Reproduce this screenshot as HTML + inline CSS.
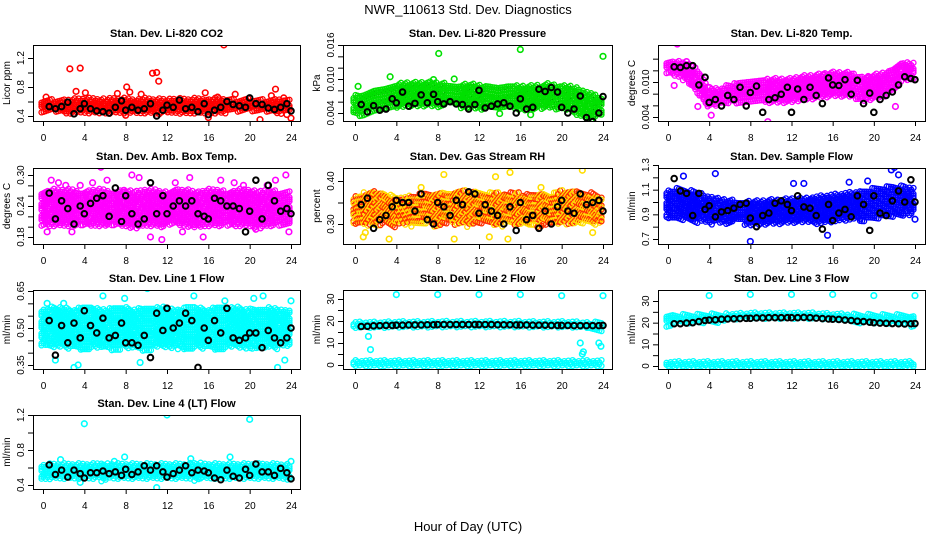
<!DOCTYPE html>
<html><head><meta charset="utf-8"><style>
body{margin:0;background:#fff}
svg{display:block;font-family:"Liberation Sans",sans-serif}
</style></head><body>
<svg id="chart" width="936" height="540" viewBox="0 0 936 540">
<rect width="936" height="540" fill="#fff"/>
<text x="468" y="14" text-anchor="middle" font-size="13">NWR_110613  Std. Dev. Diagnostics</text>
<text x="468" y="531" text-anchor="middle" font-size="13">Hour of Day (UTC)</text>
</svg>
<script>
const blackHours=[0.6,1.2,1.8,2.4,3,3.6,4,4.6,5.2,5.8,6.4,7,7.6,8,8.6,9.2,9.8,10.4,11,11.6,12,12.6,13.2,13.8,14.4,15,15.6,16,16.6,17.2,17.8,18.4,19,19.6,20,20.6,21.2,21.8,22.4,23,23.6,24];
const cloudHours=[0,1,2,3,4,5,6,7,8,9,10,11,12,13,14,15,16,17,18,19,20,21,22,23,24];
const xTicks=[0,4,8,12,16,20,24];

const co2Black=[0.53,0.50,0.53,0.59,0.43,0.50,0.57,0.50,0.47,0.46,0.44,0.52,0.61,0.48,0.52,0.48,0.50,0.57,0.40,0.48,0.55,0.52,0.62,0.50,0.52,0.46,0.57,0.42,0.48,0.52,0.60,0.56,0.54,0.52,0.65,0.57,0.56,0.51,0.49,0.52,0.57,0.47];
const co2Lo=[0.45,0.44,0.44,0.44,0.44,0.45,0.45,0.45,0.44,0.45,0.45,0.44,0.45,0.45,0.44,0.44,0.45,0.44,0.45,0.45,0.45,0.44,0.45,0.44,0.45];
const co2Hi=[0.60,0.61,0.61,0.62,0.63,0.63,0.62,0.63,0.63,0.62,0.63,0.62,0.62,0.63,0.62,0.63,0.62,0.63,0.62,0.61,0.62,0.61,0.61,0.62,0.60];
const co2OutH=[2.6,3.6,10.6,11.0,11.2,17.5,8.1,8.4,3.2,4.1,15.7,18.6,22.5,21.0,24.0,8.0,16.0,0.3,7.2,9.5,22.1,23.3,23.6,16.9];
const co2OutV=[1.05,1.06,0.99,1.00,0.88,1.38,0.80,0.73,0.74,0.72,0.72,0.70,0.77,0.35,0.37,0.41,0.38,0.66,0.71,0.70,0.68,0.65,0.42,0.66];
const presBlack=[0.0055,0.0042,0.0053,0.0045,0.0047,0.0065,0.0058,0.0077,0.0052,0.0057,0.0072,0.0058,0.0073,0.0060,0.0056,0.0060,0.0056,0.0055,0.0047,0.0055,0.0080,0.0049,0.0052,0.0056,0.0058,0.0052,0.0040,0.0065,0.0047,0.0050,0.0082,0.0078,0.0085,0.0077,0.0050,0.0040,0.0047,0.0070,0.0032,0.0025,0.0040,0.0069];
const presLo=[0.0037,0.0037,0.0042,0.0045,0.0050,0.0052,0.0052,0.0052,0.0052,0.0052,0.0052,0.0047,0.0045,0.0050,0.0050,0.0050,0.0045,0.0045,0.0050,0.0050,0.0048,0.0045,0.0032,0.0028,0.0035];
const presHi=[0.0068,0.0072,0.0080,0.0083,0.0088,0.0092,0.0092,0.0093,0.0092,0.0090,0.0088,0.0090,0.0088,0.0086,0.0083,0.0086,0.0086,0.0086,0.0088,0.0090,0.0086,0.0086,0.0080,0.0072,0.0068];
const presOutH=[8.1,16.0,24.0,0.3,3.4,17.0,14.0,7.6,9.6];
const presOutV=[0.0145,0.0152,0.0140,0.0087,0.0104,0.0037,0.0039,0.0099,0.0100];
const tempBlack=[0.0126,0.0125,0.0128,0.0128,0.0095,0.0108,0.0065,0.0070,0.0059,0.0077,0.0070,0.0091,0.0059,0.0082,0.0093,0.0048,0.0070,0.0073,0.0079,0.0091,0.0048,0.0088,0.0070,0.0091,0.0077,0.0063,0.0107,0.0095,0.0094,0.0104,0.0079,0.0103,0.0063,0.0081,0.0048,0.0070,0.0077,0.0083,0.0095,0.0109,0.0106,0.0104];
const tempLo=[0.0115,0.0110,0.0100,0.0080,0.0058,0.0060,0.0065,0.0065,0.0065,0.0066,0.0066,0.0066,0.0066,0.0070,0.0070,0.0072,0.0075,0.0076,0.0075,0.0066,0.0068,0.0074,0.0085,0.0102,0.0104];
const tempHi=[0.0134,0.0134,0.0130,0.0120,0.0090,0.0086,0.0093,0.0098,0.0100,0.0102,0.0104,0.0104,0.0104,0.0108,0.0110,0.0112,0.0115,0.0115,0.0114,0.0106,0.0110,0.0114,0.0120,0.0133,0.0130];
const tempOutH=[0.9,0.6,4.2,9.7,22.1,15.1,1.8,2.9,17.3,19.5];
const tempOutV=[0.0165,0.0094,0.0043,0.0032,0.0058,0.0113,0.0135,0.0058,0.0112,0.0108];
const ambBlack=[0.265,0.215,0.25,0.235,0.205,0.24,0.225,0.245,0.255,0.26,0.22,0.275,0.21,0.26,0.225,0.205,0.215,0.285,0.225,0.26,0.225,0.24,0.25,0.24,0.25,0.225,0.22,0.215,0.255,0.25,0.24,0.24,0.235,0.19,0.23,0.29,0.215,0.28,0.25,0.23,0.235,0.225];
const ambLo=[0.205,0.20,0.20,0.20,0.205,0.20,0.20,0.205,0.20,0.20,0.20,0.20,0.20,0.205,0.20,0.20,0.20,0.20,0.205,0.20,0.20,0.20,0.20,0.205,0.20];
const ambHi=[0.265,0.27,0.27,0.27,0.265,0.27,0.27,0.265,0.27,0.265,0.27,0.27,0.265,0.27,0.27,0.265,0.27,0.27,0.265,0.27,0.27,0.265,0.27,0.265,0.265];
const ambOutH=[0.4,0.8,1.5,2.2,3.6,5.6,6.2,7.8,8.6,9.3,10.4,11.5,12.8,14.2,15.5,17.2,18.5,19.4,20.6,21.7,22.5,23.5,23.8,2.8,4.8,13.5];
const ambOutV=[0.19,0.29,0.285,0.28,0.28,0.315,0.29,0.27,0.30,0.295,0.18,0.175,0.285,0.295,0.18,0.29,0.285,0.28,0.195,0.28,0.29,0.30,0.19,0.19,0.285,0.19];
const rhBlack=[0.345,0.36,0.29,0.31,0.32,0.34,0.355,0.35,0.35,0.33,0.37,0.31,0.30,0.35,0.34,0.32,0.355,0.345,0.375,0.37,0.325,0.345,0.33,0.32,0.30,0.34,0.285,0.35,0.31,0.32,0.29,0.33,0.30,0.34,0.355,0.33,0.325,0.37,0.345,0.35,0.355,0.33];
const rhLo=[0.30,0.295,0.295,0.30,0.295,0.30,0.295,0.30,0.295,0.30,0.30,0.295,0.30,0.30,0.295,0.30,0.295,0.30,0.295,0.30,0.30,0.30,0.30,0.30,0.30];
const rhHi=[0.36,0.37,0.375,0.37,0.36,0.36,0.365,0.37,0.37,0.37,0.375,0.375,0.37,0.37,0.37,0.37,0.37,0.365,0.37,0.365,0.375,0.375,0.37,0.37,0.36];
const rhOutH=[3.3,8.6,9.6,13.6,15.0,22.0,0.8,6.4,1.0,13.0,18.0,23.0,14.8];
const rhOutV=[0.265,0.415,0.265,0.41,0.42,0.425,0.27,0.385,0.28,0.27,0.385,0.28,0.265];
const sfBlack=[1.19,1.09,1.07,0.89,1.07,0.94,0.97,0.88,0.92,0.93,0.95,0.98,0.99,0.87,0.80,0.89,0.91,0.99,1.01,0.98,0.93,1.05,0.96,0.95,0.89,0.78,0.98,0.85,0.91,0.94,0.88,1.05,0.98,0.77,1.05,0.91,0.89,1.01,1.09,1.00,1.18,1.00];
const sfLo=[0.86,0.85,0.84,0.84,0.83,0.83,0.83,0.83,0.82,0.82,0.83,0.83,0.83,0.83,0.83,0.83,0.84,0.84,0.85,0.85,0.86,0.87,0.88,0.89,0.90];
const sfHi=[1.08,1.10,1.09,1.07,1.04,1.02,1.01,1.00,1.00,1.00,1.01,1.01,1.02,1.02,1.03,1.04,1.05,1.06,1.07,1.08,1.10,1.11,1.12,1.12,1.10];
const sfOutH=[1.5,4.6,8.0,12.2,13.2,17.6,19.4,21.7,22.0,22.4,24.0,15.5,0.2];
const sfOutV=[1.21,1.23,0.68,1.15,1.15,1.16,1.17,1.26,1.28,1.22,0.86,0.73,1.01];
const l1Black=[0.53,0.39,0.51,0.44,0.52,0.46,0.57,0.51,0.48,0.54,0.46,0.47,0.52,0.44,0.44,0.43,0.47,0.38,0.56,0.49,0.58,0.50,0.52,0.56,0.53,0.34,0.50,0.45,0.53,0.48,0.58,0.46,0.45,0.46,0.48,0.48,0.42,0.49,0.46,0.44,0.46,0.50];
const l1Lo=[0.43,0.42,0.42,0.42,0.41,0.42,0.42,0.41,0.42,0.42,0.41,0.42,0.42,0.42,0.41,0.42,0.42,0.41,0.42,0.42,0.42,0.41,0.42,0.42,0.43];
const l1Hi=[0.57,0.58,0.58,0.57,0.58,0.58,0.57,0.58,0.58,0.57,0.58,0.58,0.58,0.57,0.58,0.58,0.57,0.58,0.58,0.58,0.57,0.58,0.58,0.57,0.57];
const l1OutH=[3.0,3.4,5.8,7.9,10.1,14.6,20.4,21.3,22.7,24.0,9.4,1.2,0.4,2.0,23.4,17.6];
const l1OutV=[0.34,0.35,0.63,0.62,0.66,0.63,0.62,0.63,0.34,0.61,0.36,0.37,0.60,0.60,0.37,0.61];
const l2Black=[17.5,17.6,17.8,17.9,18,18,18.1,18.1,18.2,18.2,18.2,18.3,18.3,18.4,18.4,18.4,18.4,18.4,18.4,18.4,18.4,18.4,18.4,18.3,18.3,18.3,18.2,18.2,18.2,18.1,18.1,18.1,18.0,18.0,18.0,18.0,17.9,17.9,17.9,17.9,17.9,18.0];
const l2Lo=[16.5,16.8,17,17,17,17,17,17,17,17,17,17,17,17,17,17,17,17,17,17,17,17,16.5,16,16];
const l2Hi=[19,19,19,19,19.2,19.2,19.2,19.2,19.3,19.3,19.3,19.3,19.3,19.3,19.3,19.3,19.3,19.2,19.2,19.2,19.2,19.2,19,19,19];
const l2Lo2=[0,0,0,0,0,0,0,0,0,0,0,0,0,0,0,0,0,0,0,0,0,0,0,0,0];
const l2Hi2=[1.5,1.5,1.5,1.5,1.5,1.5,1.5,1.5,1.5,1.5,1.5,1.5,1.5,1.5,1.5,1.5,1.5,1.5,1.5,1.5,1.5,1.5,1.5,1.5,1.5];
const l2OutH=[4,8,12,16,20,24,1.3,1.5,21.8,22,22.1,23.6,23.8];
const l2OutV=[32,32,32,32,31.5,31.5,13,7,10,5,6,10,8.5];
const l3Black=[19.5,19.5,19.8,20.0,20.5,21.0,21.2,21.3,21.6,21.7,21.8,21.9,22.0,22.0,22.2,22.2,22.3,22.3,22.3,22.3,22.3,22.3,22.4,22.3,22.1,21.9,21.7,21.6,21.5,21.2,21.0,20.7,20.5,20.2,20.0,19.8,19.7,19.6,19.5,19.4,19.5,19.6];
const l3Lo=[18.8,19,19.2,19.5,20,20.5,20.8,21,21.2,21.3,21.4,21.5,21.5,21.5,21.4,21.2,21,20.8,20.5,20.2,19.8,19.5,19.2,19,18.8];
const l3Hi=[23.2,23.2,23.3,23.3,23.5,23.5,23.6,23.7,24,24,24,24,24,24,24,23.8,23.6,23.5,23.4,23.3,23.3,23.2,23.2,23.2,23.2];
const l3Lo2=[0,0,0,0,0,0,0,0,0,0,0,0,0,0,0,0,0,0,0,0,0,0,0,0,0];
const l3Hi2=[1.5,1.5,1.5,1.5,1.5,1.5,1.5,1.5,1.5,1.5,1.5,1.5,1.5,1.5,1.5,1.5,1.5,1.5,1.5,1.5,1.5,1.5,1.5,1.5,1.5];
const l3OutH=[4,8,12,16,20,24];
const l3OutV=[32.5,33,33,33,32.5,32.5];
const l4Black=[0.63,0.52,0.57,0.49,0.57,0.53,0.48,0.54,0.54,0.56,0.53,0.55,0.51,0.58,0.52,0.55,0.62,0.57,0.62,0.55,0.49,0.53,0.57,0.62,0.54,0.57,0.56,0.54,0.48,0.46,0.57,0.50,0.48,0.58,0.51,0.64,0.55,0.55,0.51,0.59,0.54,0.47];
const l4Lo=[0.47,0.46,0.46,0.46,0.46,0.46,0.46,0.46,0.46,0.46,0.46,0.46,0.46,0.46,0.46,0.46,0.46,0.46,0.46,0.46,0.46,0.46,0.46,0.46,0.47];
const l4Hi=[0.62,0.63,0.63,0.63,0.63,0.63,0.64,0.63,0.63,0.63,0.63,0.63,0.63,0.63,0.63,0.64,0.63,0.63,0.63,0.63,0.63,0.63,0.63,0.63,0.62];
const l4OutH=[4,12,20,1.7,18.1,7.9,11,24,6.9,14.3,3.6];
const l4OutV=[1.1,1.2,1.15,0.69,0.72,0.72,0.37,0.67,0.67,0.70,0.43];

const NS='http://www.w3.org/2000/svg';
const svg=document.getElementById('chart');
function mk(tag,attrs,parent){const e=document.createElementNS(NS,tag);for(const k in attrs)e.setAttribute(k,attrs[k]);(parent||svg).appendChild(e);return e;}

const cols=[{l:33,r:300,x0:43,x24:291},{l:343,r:612,x0:355,x24:603},{l:658,r:925,x0:668,x24:915}];
const rows=[{t:45,b:121},{t:168,b:244},{t:290,b:369},{t:415,b:489}];

const panels=[
 {name:'co2',title:'Stan. Dev. Li-820 CO2',ylab:'Licor ppm',c:0,r:0,v0:0.4,p0:116,v1:1.2,p1:58,ticks:[0.4,0.6,0.8,1.0,1.2],labels:[0.4,0.8,1.2],dec:1,col:'#ff0000',black:co2Black,bands:[[co2Lo,co2Hi]],oh:co2OutH,ov:co2OutV},
 {name:'pressure',title:'Stan. Dev. Li-820 Pressure',ylab:'kPa',c:1,r:0,v0:0.004,p0:113,v1:0.016,p1:45,ticks:[0.004,0.006,0.008,0.010,0.012,0.014,0.016],labels:[0.004,0.010,0.016],dec:3,col:'#00e000',dot:'#004000',black:presBlack,bands:[[presLo,presHi]],oh:presOutH,ov:presOutV},
 {name:'li820-temp',title:'Stan. Dev. Li-820 Temp.',ylab:'degrees C',c:2,r:0,v0:0.004,p0:117,v1:0.010,p1:82,ticks:[0.004,0.006,0.008,0.010,0.012,0.014],labels:[0.004,0.010],dec:3,col:'#ff00ff',black:tempBlack,bands:[[tempLo,tempHi]],oh:tempOutH,ov:tempOutV},
 {name:'amb-box-temp',title:'Stan. Dev. Amb. Box Temp.',ylab:'degrees C',c:0,r:1,v0:0.18,p0:237,v1:0.30,p1:175,ticks:[0.18,0.20,0.22,0.24,0.26,0.28,0.30],labels:[0.18,0.24,0.30],dec:2,col:'#ff00ff',black:ambBlack,bands:[[ambLo,ambHi]],oh:ambOutH,ov:ambOutV},
 {name:'gas-stream-rh',title:'Stan. Dev. Gas Stream RH',ylab:'percent',c:1,r:1,v0:0.30,p0:224,v1:0.40,p1:181,ticks:[0.30,0.35,0.40],labels:[0.30,0.40],dec:2,col:'#ffdd00',alt:'#ff3000',black:rhBlack,bands:[[rhLo,rhHi]],oh:rhOutH,ov:rhOutV},
 {name:'sample-flow',title:'Stan. Dev. Sample Flow',ylab:'ml/min',c:2,r:1,v0:0.7,p0:239,v1:1.3,p1:165,ticks:[0.7,0.8,0.9,1.0,1.1,1.2,1.3],labels:[0.7,0.9,1.1,1.3],dec:1,col:'#0000ff',black:sfBlack,bands:[[sfLo,sfHi]],oh:sfOutH,ov:sfOutV},
 {name:'line1-flow',title:'Stan. Dev. Line 1 Flow',ylab:'ml/min',c:0,r:2,v0:0.35,p0:365,v1:0.65,p1:291,ticks:[0.35,0.40,0.45,0.50,0.55,0.60,0.65],labels:[0.35,0.50,0.65],dec:2,col:'#00ffff',black:l1Black,bands:[[l1Lo,l1Hi]],oh:l1OutH,ov:l1OutV},
 {name:'line2-flow',title:'Stan. Dev. Line 2 Flow',ylab:'ml/min',c:1,r:2,v0:0,p0:365,v1:30,p1:299,ticks:[0,5,10,15,20,25,30],labels:[0,10,20,30],dec:0,col:'#00ffff',black:l2Black,bands:[[l2Lo,l2Hi],[l2Lo2,l2Hi2]],oh:l2OutH,ov:l2OutV},
 {name:'line3-flow',title:'Stan. Dev. Line 3 Flow',ylab:'ml/min',c:2,r:2,v0:0,p0:366,v1:30,p1:301,ticks:[0,5,10,15,20,25,30],labels:[0,10,20,30],dec:0,col:'#00ffff',black:l3Black,bands:[[l3Lo,l3Hi],[l3Lo2,l3Hi2]],oh:l3OutH,ov:l3OutV},
 {name:'line4-lt-flow',title:'Stan. Dev. Line 4 (LT) Flow',ylab:'ml/min',c:0,r:3,v0:0.4,p0:485,v1:1.2,p1:415,ticks:[0.4,0.6,0.8,1.0,1.2],labels:[0.4,0.8,1.2],dec:1,col:'#00ffff',black:l4Black,bands:[[l4Lo,l4Hi]],oh:l4OutH,ov:l4OutV}
];

panels.forEach(p=>{
 const C=cols[p.c],R=rows[p.r];
 const xs=h=>C.x0+(C.x24-C.x0)*h/24;
 const ys=v=>p.p0+(p.p1-p.p0)*(v-p.v0)/(p.v1-p.v0);
 const g=mk('g',{});
 
 
 const clipId='clip-'+p.name;
 const cp=mk('clipPath',{id:clipId},g);
 mk('rect',{x:C.l,y:R.t,width:C.r-C.l,height:R.b-R.t},cp);
 const plot=mk('g',{'clip-path':'url(#'+clipId+')'},g);
 const cloud=mk('g',{fill:'none','stroke-width':1.3},plot);
 
 
 let k=0;
 p.bands.forEach(([lo,hi])=>{
  for(let h=0;h<=24.001;h+=0.2){
   const i=Math.min(23,Math.floor(h)),f=h-i;
   const l=lo[i]+(lo[i+1]-lo[i])*f, u=hi[i]+(hi[i+1]-hi[i])*f;
   const yl=ys(l),yu=ys(u);
   for(let y=yu;y<=yl+0.01;y+=3.1){
    k++;
    const cx=xs(h)+((k*7)%7-3)*0.5, cy=y+((k*5)%7-3)*0.55;
    mk('circle',{cx:cx.toFixed(1),cy:cy.toFixed(1),r:2.5,stroke:(p.alt&&k%2===0)?p.alt:p.col},cloud);
    if(p.dot&&k%2===0) mk('rect',{x:cx.toFixed(1),y:cy.toFixed(1),width:1,height:1,fill:p.dot},cloud);
   }
  }
 });
 const og=mk('g',{fill:'none','stroke-width':1.6,stroke:p.col},plot);
 
 
 p.oh.forEach((h,i)=>{mk('circle',{cx:xs(h),cy:ys(p.ov[i]),r:2.8},og);});
 const bg=mk('g',{fill:'none','stroke-width':2,stroke:'#000'},plot);
 
 
 blackHours.forEach((h,i)=>{mk('circle',{cx:xs(h),cy:ys(p.black[i]),r:2.8},bg);});
 const box=mk('rect',{x:C.l+0.5,y:R.t+0.5,width:C.r-C.l,height:R.b-R.t,fill:'none',stroke:'#000','stroke-width':1},g);
 
 
 const xa=mk('g',{stroke:'#000','stroke-width':1},g);
 
 
 mk('line',{x1:xs(0),x2:xs(24),y1:R.b+0.5,y2:R.b+0.5},xa);
 xTicks.forEach(t=>{
  mk('line',{x1:xs(t)+0.5,x2:xs(t)+0.5,y1:R.b,y2:R.b+5},xa);
  const tx=mk('text',{x:xs(t)+0.5,y:R.b+20,'text-anchor':'middle','font-size':10,stroke:'none',fill:'#000'},xa);
  tx.textContent=t;
 });
 const ya=mk('g',{stroke:'#000','stroke-width':1},g);
 
 
 const yt=p.ticks.map(ys);
 mk('line',{x1:C.l+0.5,x2:C.l+0.5,y1:Math.min(...yt),y2:Math.max(...yt)},ya);
 p.ticks.forEach(t=>{
  mk('line',{x1:C.l-5,x2:C.l,y1:ys(t)+0.5,y2:ys(t)+0.5},ya);
 });
 p.labels.forEach(t=>{
  const y=ys(t), x=C.l-9;
  const tx=mk('text',{x:x,y:y,'text-anchor':'middle','font-size':10,stroke:'none',fill:'#000',transform:'rotate(-90 '+x+' '+y+')'},ya);
  tx.textContent=t.toFixed(p.dec);
 });
 const yl=mk('text',{x:C.l-23,y:(R.t+R.b)/2,'text-anchor':'middle','font-size':10,transform:'rotate(-90 '+(C.l-23)+' '+((R.t+R.b)/2)+')'},g);
 
 
 yl.textContent=p.ylab;
 const tt=mk('text',{x:(C.l+C.r)/2,y:R.t-8,'text-anchor':'middle','font-size':11,'font-weight':'bold'},g);
 
 
 tt.textContent=p.title;
});
</script>
</body></html>
